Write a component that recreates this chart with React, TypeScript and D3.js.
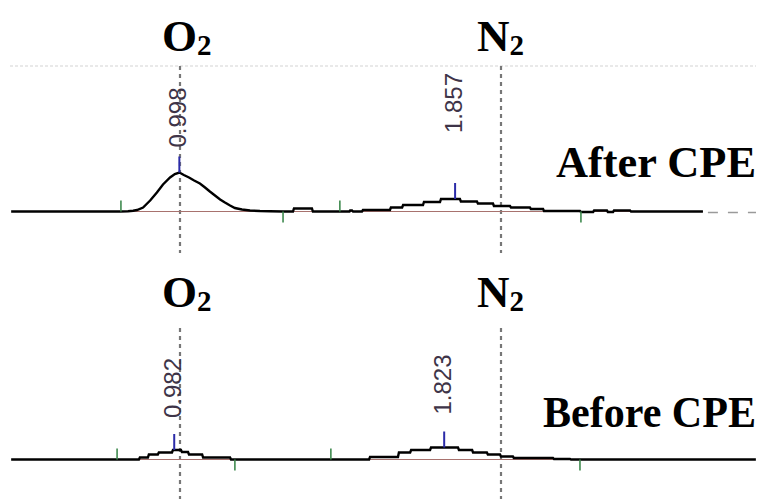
import React from "react";
import * as d3 from "d3";

const WIDTH = 772;
const HEIGHT = 499;

// retention time (min), signal above baseline
const afterTrace: [number, number][] = [
  [0.474, 0], [0.813, 0], [0.838, 0.3], [0.854, 0.8], [0.866, 1.5], [0.885, 4],
  [0.907, 11], [0.928, 19], [0.947, 27], [0.969, 34], [0.984, 37.5], [0.998, 39],
  [1.012, 36.5], [1.028, 34], [1.044, 31], [1.062, 28], [1.078, 24], [1.093, 20],
  [1.109, 16], [1.125, 12], [1.14, 9], [1.156, 6], [1.171, 3.5], [1.193, 2],
  [1.218, 1], [1.249, 0.5], [1.28, 0.3], [1.321, 0], [1.352, 0], [1.355, 3],
  [1.411, 3], [1.414, 0], [1.528, 0], [1.53, 1], [1.536, 1], [1.539, 0],
  [1.567, 0], [1.57, 1.5], [1.654, 1.5], [1.657, 4], [1.692, 4], [1.695, 6.5],
  [1.757, 6.5], [1.76, 9.5], [1.81, 9.5], [1.813, 12.5], [1.872, 12.5], [1.875, 10],
  [1.925, 10], [1.928, 8], [1.975, 8], [1.978, 5.5], [2.028, 5.5], [2.031, 4],
  [2.09, 4], [2.093, 2.5], [2.131, 2.5], [2.134, 0.5], [2.246, 0.5], [2.249, -0.5],
  [2.287, -0.5], [2.29, 1], [2.33, 1], [2.333, -0.5], [2.349, -0.5], [2.352, 1],
  [2.402, 1], [2.405, 0], [2.629, 0],
];

const beforeTrace: [number, number][] = [
  [0.474, 0], [0.872, 0], [0.875, 2], [0.9, 2], [0.903, 5], [0.931, 5],
  [0.934, 7], [0.975, 7], [0.978, 9.5], [1.003, 9.5], [1.006, 7.5], [1.025, 7.5],
  [1.028, 5], [1.069, 5], [1.072, 2], [1.156, 2], [1.159, 0], [1.589, 0],
  [1.592, 2.5], [1.679, 2.5], [1.682, 7], [1.717, 7], [1.72, 9.5], [1.779, 9.5],
  [1.782, 12], [1.866, 12], [1.869, 9.5], [1.91, 9.5], [1.913, 7], [1.956, 7],
  [1.959, 5], [1.997, 5], [2.0, 3], [2.037, 3], [2.04, 1.5], [2.162, 1.5],
  [2.165, 0.5], [2.215, 0.5], [2.218, 0], [2.794, 0],
];

const afterPeaks = [0.998, 1.857];
const afterPeakHeights = [39, 12.5];
const beforePeaks = [0.982, 1.823];
const beforePeakHeights = [9.5, 12];

// integration marks: +1 = peak start (up), -1 = peak end (down)
const afterMarks = [0.816, 1.321, 1.498, 2.249];
const beforeMarks = [0.804, 1.171, 1.47, 2.246];
const markDirs = [1, -1, 1, -1];

const gases = ["O", "N"];
const gasTimes = [1.0, 2.0];
const panelNames = ["After CPE", "Before CPE"];

const x = d3.scaleLinear().domain([1, 2]).range([180, 501]);

const panels = [
  {
    name: panelNames[0], trace: afterTrace, peaks: afterPeaks, heights: afterPeakHeights,
    marks: afterMarks, base: 211.5, gasY: 51, nameY: 177, nameLen: 200,
    labelGap: [25, 66], dashTail: true,
  },
  {
    name: panelNames[1], trace: beforeTrace, peaks: beforePeaks, heights: beforePeakHeights,
    marks: beforeMarks, base: 459.5, gasY: 307, nameY: 427, nameLen: 213,
    labelGap: [32, 33], dashTail: false,
  },
];

function Panel({ p }: { p: (typeof panels)[number] }) {
  const y = d3.scaleLinear().domain([0, 40]).range([p.base, p.base - 40]);
  const line = d3
    .line<[number, number]>()
    .x((d) => x(d[0]))
    .y((d) => y(d[1]));
  const last = p.trace[p.trace.length - 1][0];
  const baseEnd = p.dashTail ? last : p.marks[p.marks.length - 1];

  return (
    <g>
      {gases.map((g, i) => (
        <text
          key={g}
          x={x(gasTimes[i]) - (i === 0 ? 18 : 24)}
          y={p.gasY}
          fontFamily="'Liberation Serif', 'Times New Roman', serif"
          fontWeight="bold"
          fontSize={45}
          fill="#000"
        >
          {g}
          <tspan fontSize={29} dy={4}>2</tspan>
        </text>
      ))}
      <text
        x={756}
        y={p.nameY}
        textAnchor="end"
        textLength={p.nameLen}
        lengthAdjust="spacingAndGlyphs"
        fontFamily="'Liberation Serif', 'Times New Roman', serif"
        fontWeight="bold"
        fontSize={44}
        fill="#000"
      >
        {p.name}
      </text>

      <line x1={x(p.marks[0])} x2={x(baseEnd)} y1={p.base} y2={p.base} stroke="#a8726e" strokeWidth={1} />
      <path d={line(p.trace) || ""} fill="none" stroke="#000" strokeWidth={2.4} />
      {p.dashTail && (
        <line
          x1={x(last) + 5}
          x2={756}
          y1={p.base + 1}
          y2={p.base + 1}
          stroke="#9a9a9a"
          strokeWidth={1.5}
          strokeDasharray="10,10"
        />
      )}

      {p.marks.map((m, i) => (
        <line
          key={i}
          x1={x(m)}
          x2={x(m)}
          y1={p.base}
          y2={p.base - 11 * markDirs[i]}
          stroke="#3f8a4f"
          strokeWidth={1.6}
        />
      ))}

      {p.peaks.map((t, i) => {
        const px = x(t);
        const apex = y(p.heights[i]);
        const ly = apex - p.labelGap[i];
        return (
          <g key={t}>
            <line x1={px} x2={px} y1={apex} y2={apex - 16} stroke="#2b2ba8" strokeWidth={2} />
            <text
              transform={`translate(${px - 2},${ly}) rotate(-90)`}
              dominantBaseline="central"
              fontFamily="'Liberation Sans', Arial, sans-serif"
              fontSize={24}
              fill="#3e3448"
            >
              {t.toFixed(3)}
            </text>
          </g>
        );
      })}
    </g>
  );
}

export default function App() {
  return (
    <div style={{ position: "absolute", left: 0, top: 0 }}>
      <svg width={WIDTH} height={HEIGHT} style={{ display: "block", background: "#fff" }}>
        <line x1={10} x2={756} y1={66} y2={66} stroke="#e2e2e2" strokeWidth={1.5} strokeDasharray="3,2" />
        {gasTimes.map((t) => (
          <g key={t}>
            <line x1={x(t)} x2={x(t)} y1={66} y2={253} stroke="#777" strokeWidth={2.2} strokeDasharray="4,4" />
            <line x1={x(t)} x2={x(t)} y1={328} y2={499} stroke="#777" strokeWidth={2.2} strokeDasharray="4,4" />
          </g>
        ))}
        {panels.map((p) => (
          <Panel key={p.name} p={p} />
        ))}
      </svg>
    </div>
  );
}
